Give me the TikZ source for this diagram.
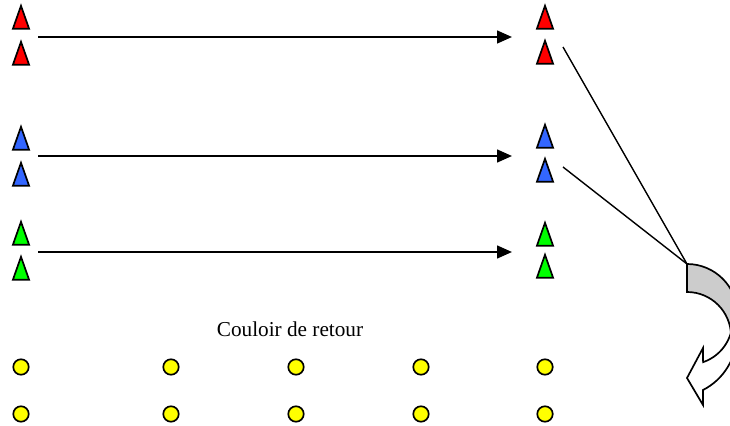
\documentclass[tikz,border=0pt]{standalone}
\usepackage{fontspec}
\setmainfont{Liberation Serif}
\usetikzlibrary{shapes.geometric,arrows.meta}
\definecolor{conered}{RGB}{255,0,0}
\definecolor{coneblue}{RGB}{51,102,255}
\definecolor{conegreen}{RGB}{0,255,0}
\definecolor{discyellow}{RGB}{255,255,0}
\definecolor{turngray}{RGB}{204,204,204}
\tikzset{
  cone/.style={draw, line width=1.2pt, isosceles triangle, shape border rotate=90,
    isosceles triangle stretches, minimum width=11.5pt, minimum height=16.3pt, inner sep=0pt},
  disc/.style={draw, line width=1.2pt, circle, fill=discyellow, minimum size=11pt, inner sep=0pt},
}
\begin{document}
\begin{tikzpicture}[x=0.025cm, y=-0.025cm, >={Triangle[length=10.5pt,width=9pt]}, line width=1.35pt]
	\useasboundingbox (0,0) rectangle (730,426);
	% cones, left and right
	\node[cone, fill=conered]   (rl1) at (21,23)  {};
	\node[cone, fill=conered]   (rl2) at (21,59)  {};
	\node[cone, fill=coneblue]  (bl1) at (21,144) {};
	\node[cone, fill=coneblue]  (bl2) at (21,180) {};
	\node[cone, fill=conegreen] (gl1) at (21,239) {};
	\node[cone, fill=conegreen] (gl2) at (21,274) {};
	\node[cone, fill=conered]   (rr1) at (545,23)  {};
	\node[cone, fill=conered]   (rr2) at (545,58)  {};
	\node[cone, fill=coneblue]  (br1) at (545,142) {};
	\node[cone, fill=coneblue]  (br2) at (545,176) {};
	\node[cone, fill=conegreen] (gr1) at (545,240) {};
	\node[cone, fill=conegreen] (gr2) at (545,272) {};
	% runs
	\coordinate (rs) at (38,37);  \coordinate (re) at (512,37);
	\coordinate (bs) at (38,156); \coordinate (be) at (512,156);
	\coordinate (gs) at (38,252); \coordinate (ge) at (512,252);
	\draw[->] (rs) -- (re);
	\draw[->] (bs) -- (be);
	\draw[->] (gs) -- (ge);
	% back to the turn
	\coordinate (rt) at (563,47);
	\coordinate (bt) at (563,167);
	\coordinate (turn) at (687,264);
	\draw[line width=1pt] (rt) -- (turn);
	\draw[line width=1pt] (bt) -- (turn);
	\begin{scope}
	\clip (0,0) rectangle (730,426);
	\draw[fill=turngray, line width=1.2pt] (turn) arc[start angle=-90, end angle=0, radius=50.5]
		-- (731,336) arc[start angle=0, end angle=-90, radius=44] -- cycle;
	\draw[fill=white, line width=1.2pt] (732.5,321) arc[start angle=0, end angle=71.1, radius=43.5]
		-- (703,348) -- (687,378) -- (703,405) -- (703,390)
		arc[start angle=63, end angle=0, radius=61.7] -- cycle;
	\end{scope}
	\node[anchor=base, font=\fontsize{15.1pt}{18pt}\selectfont] (couloir) at (290,336.7) {Couloir de retour};
	% return lane
	\foreach \x [count=\i] in {21,171,296,421,545} {
		\node[disc] (a\i) at (\x,367) {};
		\node[disc] (b\i) at (\x,414) {};
	}
\end{tikzpicture}
\end{document}
